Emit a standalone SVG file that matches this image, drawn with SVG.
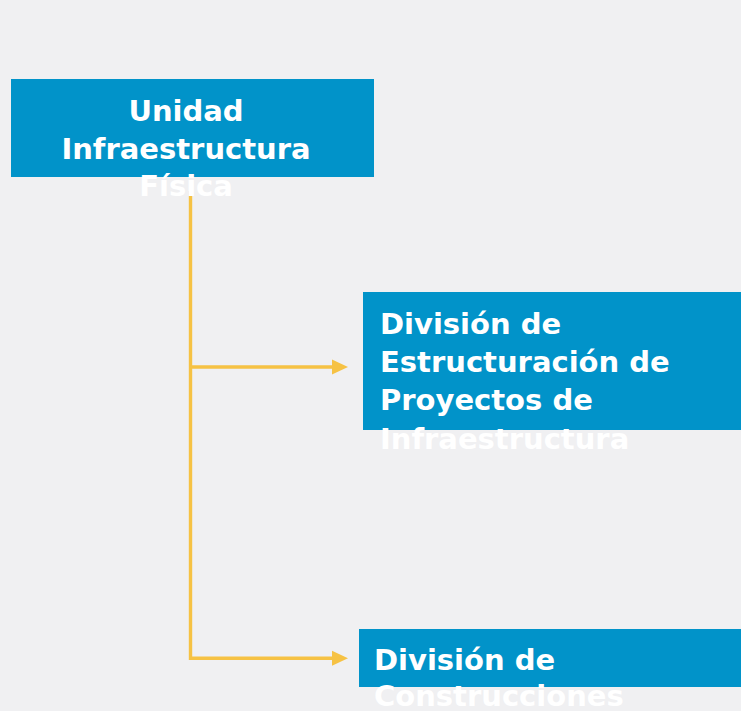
<svg xmlns="http://www.w3.org/2000/svg" width="741" height="711" viewBox="0 0 741 711">
<defs>
<style>
.box{fill:#0193c9;}
.lbl{fill:#ffffff;font-family:"DejaVu Sans","Liberation Sans",sans-serif;font-weight:bold;font-size:29px;}
.conn{stroke:#f6c244;stroke-width:3.4;fill:none;}
.head{fill:#f6c244;}
</style>
</defs>
<rect width="741" height="711" fill="#f0f0f2"/>
<g id="connectors">
<path class="conn" d="M190.5,191 V658.3 H334"/>
<path class="conn" d="M190.5,367 H334"/>
<path class="head" d="M332,359.5 L348,367 L332,374.5 Z"/>
<path class="head" d="M332,650.8 L348,658.3 L332,665.8 Z"/>
</g>
<g id="node-unidad">
<rect class="box" x="11" y="79" width="363" height="98"/>
<text class="lbl" text-anchor="middle"><tspan x="186" y="121">Unidad</tspan><tspan x="186" y="159">Infraestructura</tspan><tspan x="186" y="196">Física</tspan></text>
</g>
<g id="node-estructuracion">
<rect class="box" x="363" y="292" width="378" height="138"/>
<text class="lbl"><tspan x="380" y="334">División de</tspan><tspan x="380" y="372">Estructuración de</tspan><tspan x="380" y="410">Proyectos de</tspan><tspan x="380" y="449">Infraestructura</tspan></text>
</g>
<g id="node-construcciones">
<rect class="box" x="359" y="629" width="382" height="58"/>
<text class="lbl"><tspan x="374" y="670">División de</tspan><tspan x="374" y="706">Construcciones</tspan></text>
</g>
</svg>
